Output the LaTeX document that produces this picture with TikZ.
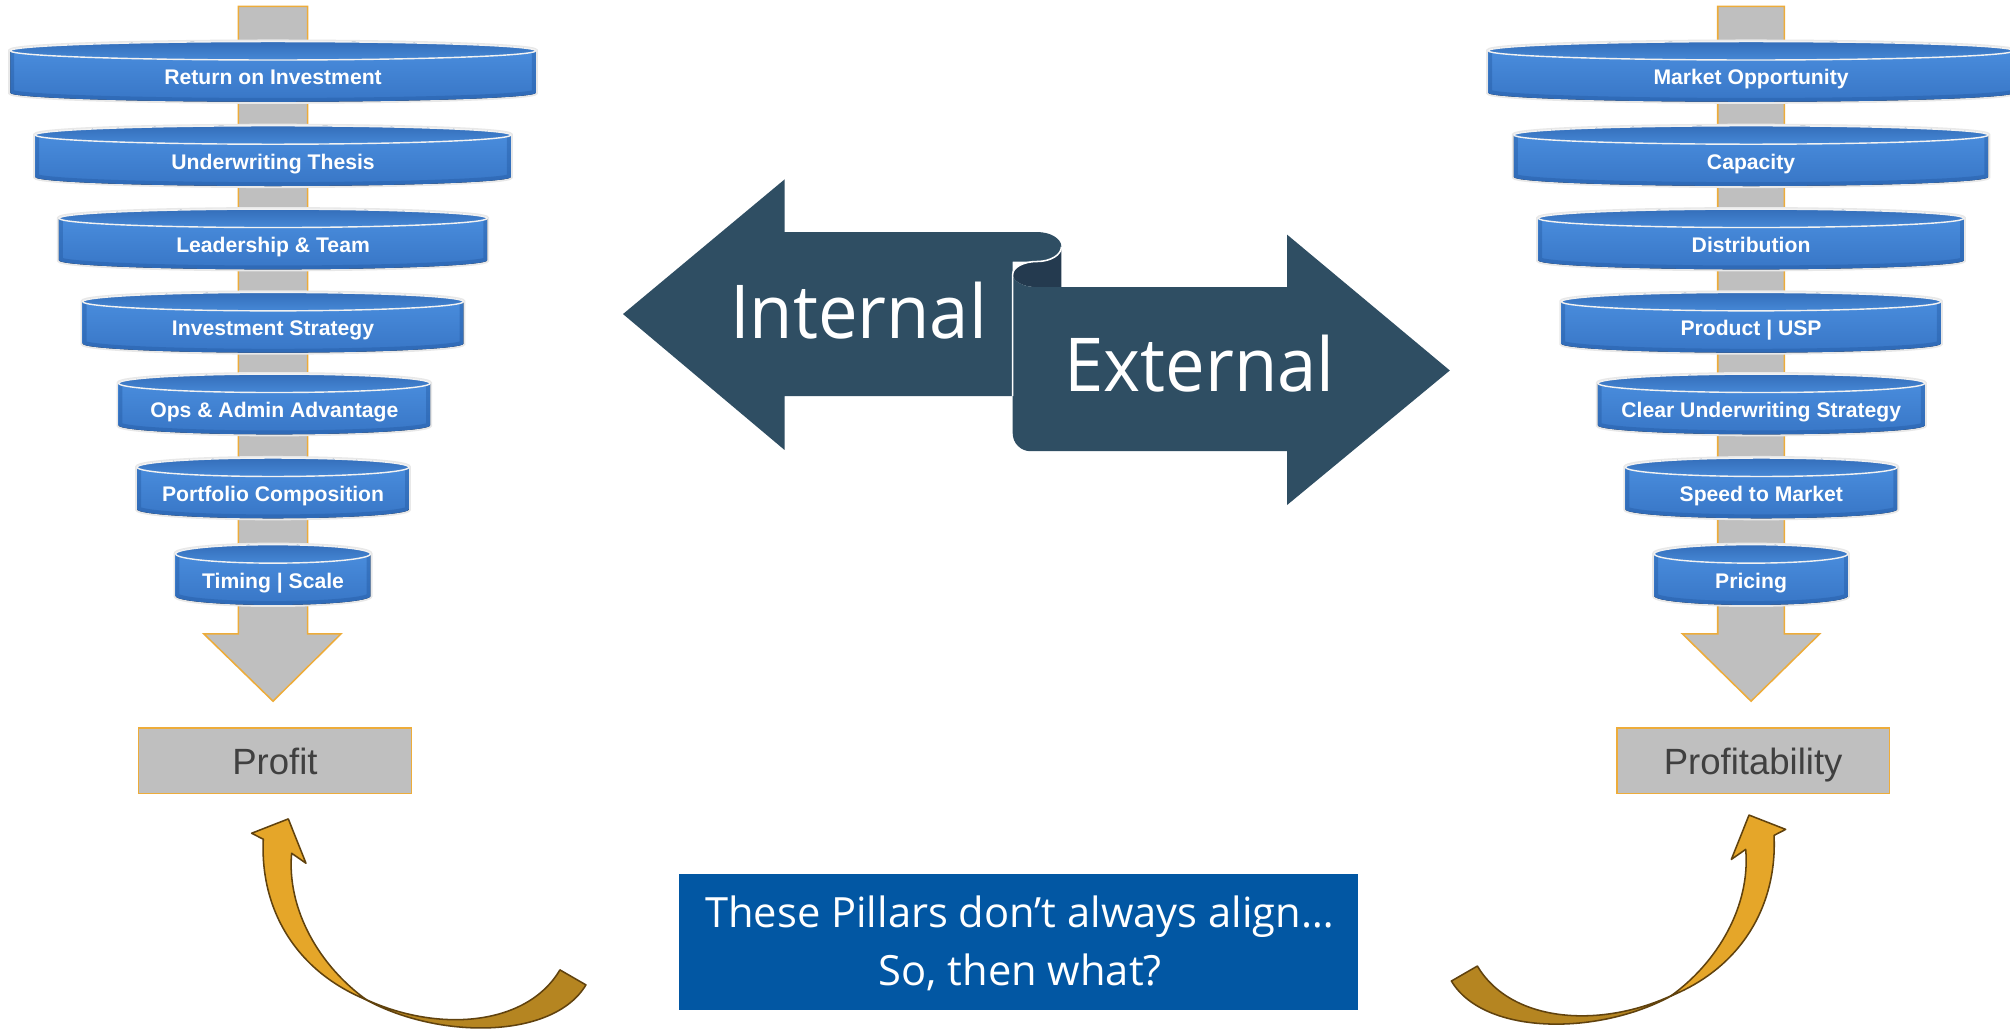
\documentclass[tikz,border=0pt]{standalone}
\usepackage{fontspec}
\setmainfont{Liberation Sans}
\newfontfamily\osans{Open Sans}
\definecolor{stemgray}{RGB}{191,191,191}
\definecolor{stemorange}{RGB}{237,172,58}
\definecolor{pbluelight}{RGB}{76,144,224}
\definecolor{pbluemid}{RGB}{70,138,218}
\definecolor{pbluedark}{RGB}{56,118,198}
\definecolor{pblueedge}{RGB}{34,88,160}
\definecolor{ptopdark}{RGB}{52,110,186}
\definecolor{ptoplight}{RGB}{70,136,214}
\definecolor{slate}{RGB}{47,78,99}
\definecolor{slatedark}{RGB}{36,58,79}
\definecolor{gold}{RGB}{229,166,41}
\definecolor{golddark}{RGB}{181,133,33}
\definecolor{goldline}{RGB}{96,66,14}
\definecolor{boxblue}{RGB}{2,87,163}
\definecolor{txtgray}{RGB}{64,64,64}
\tikzset{
  stemstyle/.style={fill=stemgray, draw=stemorange, line width=1.2pt, line join=miter},
  resultbox/.style={rectangle, fill=stemgray, draw=stemorange, line width=1.2pt, inner sep=0pt},
  resulttext/.style={anchor=base, inner sep=0pt, text=txtgray, font=\fontsize{28.5}{30}\selectfont},
  pillartext/.style={anchor=base, inner sep=0pt, text=white, font=\fontsize{16.5}{18}\selectfont\bfseries},
  bigword/.style={anchor=base, inner sep=0pt, text=white, font=\osans\fontsize{58}{60}\selectfont, xscale=0.95},
  boxword/.style={anchor=base, inner sep=0pt, text=white, font=\osans\fontsize{32.5}{34}\selectfont},
  goldlight/.style={fill=gold, draw=goldline, line width=1.2pt, line join=round},
  goldback/.style={fill=golddark, draw=goldline, line width=1.2pt, line join=round},
}
\newcommand\pillar[5]{%
  \pgfmathsetmacro\pl{#2-#4}\pgfmathsetmacro\pr{#2+#4}%
  \pgfmathsetmacro\ptp{#3-20.8}\pgfmathsetmacro\pbt{#3+12}%
  \pgfmathsetmacro\tbase{#3+5.85}%
  \def\pillarbody{(\pl,\ptp) -- (\pl,\pbt) arc[start angle=180,end angle=360,x radius=#4pt,y radius=7pt] -- (\pr,\ptp) arc[start angle=0,end angle=180,x radius=#4pt,y radius=7.2pt] -- cycle}%
  \draw[line width=3.2pt, gray!18] \pillarbody;
  \fill[top color=pbluelight, middle color=pbluemid, bottom color=pbluedark] \pillarbody;
  \begin{scope}
    \clip \pillarbody;
    \draw[line width=6pt, pblueedge, opacity=0.4] \pillarbody;
  \end{scope}
  \fill[top color=ptopdark, bottom color=ptoplight] (#2,\ptp) ellipse[x radius=#4pt, y radius=7.2pt];
  \draw[white!90!gray, line width=1.1pt] (#2,\ptp) ellipse[x radius=#4pt, y radius=7.2pt];
  \node[pillartext] (#1) at (#2,\tbase) {#5};
}
\begin{document}
\begin{tikzpicture}[x=1pt,y=-1pt]
\useasboundingbox (0,0) rectangle (1568,806);
\fill[white] (0,0) rectangle (1568,806);

% stems with arrowheads
\draw[stemstyle] (186,5) -- (240,5) -- (240,494.5) -- (266,494.5) -- (213,547) -- (159,494.5) -- (186,494.5) -- cycle;
\draw[stemstyle] (1340,5) -- (1392,5) -- (1392,494.5) -- (1419.5,494.5) -- (1366,547) -- (1312.5,494.5) -- (1340,494.5) -- cycle;

% left pillars
\pillar{L1}{213}{60.4}{205}{Return on Investment}
\pillar{L2}{213}{126.1}{185.5}{Underwriting Thesis}
\pillar{L3}{213}{191.1}{167}{Leadership \& Team}
\pillar{L4}{213}{256.1}{148.5}{Investment Strategy}
\pillar{L5}{214}{319.8}{121.5}{Ops \& Admin Advantage}
\pillar{L6}{213}{385.3}{106}{Portfolio Composition}
\pillar{L7}{213}{452.9}{76}{Timing | Scale}

% right pillars
\pillar{R1}{1366}{60.4}{205}{Market Opportunity}
\pillar{R2}{1366}{126.1}{185}{Capacity}
\pillar{R3}{1366}{191.1}{166}{Distribution}
\pillar{R4}{1366}{256.1}{148}{Product | USP}
\pillar{R5}{1374}{319.8}{127.5}{Clear Underwriting Strategy}
\pillar{R6}{1374}{385.3}{106}{Speed to Market}
\pillar{R7}{1366}{452.9}{75.5}{Pricing}

% result boxes
\node[resultbox, minimum width=213pt, minimum height=51pt] (profitbox) at (214.5,593.5) {};
\node[resulttext] (profit) at (214.5,604.5) {Profit};
\node[resultbox, minimum width=212.5pt, minimum height=51pt] (profitabilitybox) at (1367.6,593.5) {};
\node[resulttext] (profitability) at (1367.6,604.5) {Profitability};

% Internal / External scroll arrows
\fill[slate] (486,245) -- (612,140) -- (612,181) -- (809,181)
  arc[start angle=90,end angle=-90,x radius=19pt,y radius=11.5pt]
  -- (790,204) -- (790,309) -- (612,309) -- (612,351) -- cycle;
\fill[slatedark] (828,192.5) -- (828,224) -- (809,224)
  arc[start angle=270,end angle=90,x radius=19pt,y radius=10pt]
  arc[start angle=270,end angle=360,x radius=19pt,y radius=11.5pt] -- cycle;
\fill[slate] (790,214) -- (790,338)
  arc[start angle=180,end angle=270,x radius=14pt,y radius=14pt]
  -- (1004,352) -- (1004,394) -- (1131,289) -- (1004,183) -- (1004,224) -- (809,224)
  arc[start angle=270,end angle=180,x radius=19pt,y radius=10pt] -- cycle;
\draw[white, line width=1.2pt] (828,192.5)
  arc[start angle=0,end angle=-90,x radius=19pt,y radius=11.5pt]
  arc[start angle=90,end angle=180,x radius=19pt,y radius=10pt] -- (790,309);
\node[bigword] (internal) at (669.7,264) {Internal};
\node[bigword] (external) at (935.7,305.7) {External};

% bottom question box
\node[rectangle, fill=boxblue, inner sep=0pt, minimum width=530pt, minimum height=106pt] (qbox) at (794.5,734.9) {};
\node[boxword] (q1) at (795.3,723.4) {These Pillars don’t always align…};
\node[boxword] (q2) at (795.9,768.9) {So, then what?};

% curved gold arrows
\begin{scope}[xshift=171.6pt, yshift=-624pt, x=0.26pt, y=-0.26pt]
  \draw[goldback] (430,595) .. controls (650,700) and (920,680) .. (1020,510) -- (1098,555) .. controls (1000,720) and (650,720) .. (430,595) -- cycle;
  \draw[goldlight] (130,118) -- (95,100) -- (205,57) -- (258,190) -- (215,160) .. controls (200,330) and (300,500) .. (440,600) .. controls (220,510) and (120,320) .. (130,118) -- cycle;
\end{scope}
\begin{scope}[xshift=1417.7pt, yshift=-621pt, x=-0.26pt, y=-0.26pt]
  \draw[goldback] (430,595) .. controls (650,700) and (920,680) .. (1020,510) -- (1098,555) .. controls (1000,720) and (650,720) .. (430,595) -- cycle;
  \draw[goldlight] (130,118) -- (95,100) -- (205,57) -- (258,190) -- (215,160) .. controls (200,330) and (300,500) .. (440,600) .. controls (220,510) and (120,320) .. (130,118) -- cycle;
\end{scope}
\end{tikzpicture}
\end{document}
